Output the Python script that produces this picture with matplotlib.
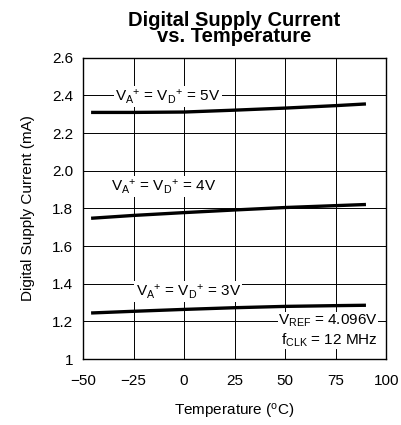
import numpy as np
import matplotlib
matplotlib.use('Agg')
import matplotlib.pyplot as plt

plt.rcParams['font.family'] = ['Liberation Sans', 'DejaVu Sans']
plt.rcParams['mathtext.default'] = 'regular'

temp_5v = [-46, -25, 0, 25, 50, 75, 90]
curr_5v = [2.31, 2.31, 2.312, 2.322, 2.333, 2.346, 2.355]
temp_4v = [-46, -25, 0, 25, 50, 75, 90]
curr_4v = [1.748, 1.763, 1.778, 1.792, 1.805, 1.815, 1.821]
temp_3v = [-46, -25, 0, 25, 50, 75, 90]
curr_3v = [1.245, 1.254, 1.264, 1.273, 1.28, 1.284, 1.286]

xticks = [-50, -25, 0, 25, 50, 75, 100]
yticks = [1, 1.2, 1.4, 1.6, 1.8, 2.0, 2.2, 2.4, 2.6]
yticklabels = ['1', '1.2', '1.4', '1.6', '1.8', '2.0', '2.2', '2.4', '2.6']

fig = plt.figure(figsize=(4.01, 4.25), dpi=100)
ax = fig.add_axes([0.207, 0.155, 0.756, 0.709])

for t, c in [(temp_5v, curr_5v), (temp_4v, curr_4v), (temp_3v, curr_3v)]:
    ax.plot(t, c, color='black', lw=2.4, solid_capstyle='butt', zorder=3)

ax.set_xlim(-50, 100)
ax.set_ylim(1, 2.6)
ax.set_xticks(xticks)
ax.set_xticklabels(['\u221250', '\u221225', '0', '25', '50', '75', '100'])
ax.set_yticks(yticks)
ax.set_yticklabels(yticklabels)
ax.grid(True, color='black', lw=0.7)
ax.tick_params(length=0, labelsize=11)
ax.tick_params(axis='x', pad=11)
ax.tick_params(axis='y', pad=7)
for s in ax.spines.values():
    s.set_linewidth(1.0)

box = dict(facecolor='white', edgecolor='none', pad=1)
lab = r'V$_A$$^{+}$ = V$_D$$^{+}$ = %dV'
ax.text(-8, 2.395, lab % 5, ha='center', va='center',
        fontsize=11, bbox=box, zorder=4)
ax.text(-10, 1.915, lab % 4, ha='center', va='center',
        fontsize=11, bbox=box, zorder=4)
ax.text(2, 1.36, lab % 3, ha='center', va='center',
        fontsize=11, bbox=box, zorder=4)
ax.text(96, 1.15, 'V$_{REF}$ = 4.096V\nf$_{CLK}$ = 12 MHz', ha='right', va='center',
        fontsize=11, bbox=dict(facecolor='white', edgecolor='none', pad=0),
        zorder=4, linespacing=1.25)

ax.set_xlabel(r'Temperature ($^o$C)', fontsize=11, labelpad=10)
ax.set_ylabel('Digital Supply Current (mA)', fontsize=11, labelpad=12)
fig.text(0.584, 0.975, 'Digital Supply Current\nvs. Temperature', ha='center', va='top',
         fontsize=14.5, fontweight='bold', linespacing=0.85)

fig.savefig('out.png', dpi=100)
